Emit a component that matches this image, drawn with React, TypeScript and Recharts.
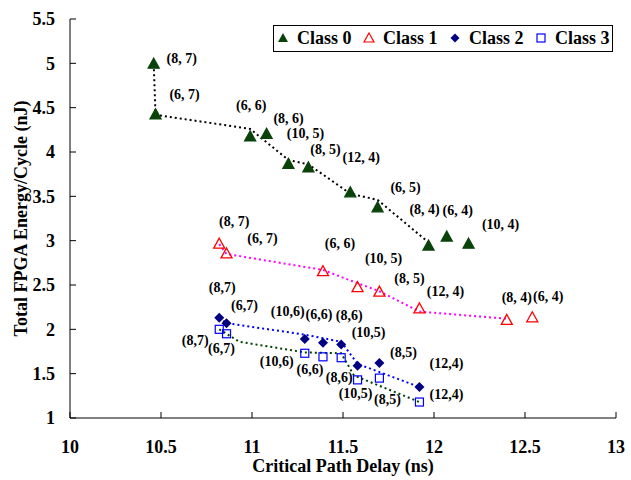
import React from "react"
import { ScatterChart, Scatter, XAxis, YAxis, Legend } from "recharts"

// class 0 (filled triangles)
const c0X = [10.46, 10.47, 10.99, 11.08, 11.2, 11.31, 11.54, 11.69, 11.97, 12.07, 12.19]
const c0Y = [4.99, 4.42, 4.17, 4.2, 3.86, 3.82, 3.54, 3.37, 2.94, 3.04, 2.96]
const c0Labels = ["(8, 7)", "(6, 7)", "(6, 6)", "(8, 6)", "(10, 5)", "(8, 5)", "(12, 4)", "(6, 5)", "(8, 4)", "(6, 4)", "(10, 4)"]

// class 1 (open triangles)
const c1X = [10.82, 10.86, 11.39, 11.58, 11.7, 11.92, 12.4, 12.54]
const c1Y = [2.96, 2.85, 2.65, 2.47, 2.42, 2.23, 2.1, 2.13]
const c1Labels = ["(8, 7)", "(6, 7)", "(6, 6)", "(10, 5)", "(8, 5)", "(12, 4)", "(8, 4)", "(6, 4)"]

// class 2 (diamonds)
const c2X = [10.82, 10.86, 11.29, 11.39, 11.49, 11.58, 11.7, 11.92]
const c2Y = [2.13, 2.07, 1.89, 1.85, 1.83, 1.59, 1.62, 1.35]
const c2Labels = ["(8,7)", "(6,7)", "(10,6)", "(6,6)", "(8,6)", "(10,5)", "(8,5)", "(12,4)"]

// class 3 (open squares)
const c3X = [10.82, 10.86, 11.29, 11.39, 11.49, 11.58, 11.7, 11.92]
const c3Y = [2.0, 1.95, 1.73, 1.69, 1.68, 1.43, 1.45, 1.18]
const c3Labels = ["(8,7)", "(6,7)", "(10,6)", "(6,6)", "(8,6)", "(10,5)", "(8,5)", "(12,4)"]

// dotted frontier lines
const f0X = [10.46, 10.47, 10.99, 11.2, 11.31, 11.54, 11.69, 11.97]
const f0Y = [4.99, 4.42, 4.26, 3.91, 3.86, 3.53, 3.46, 2.98]
const f1X = [10.82, 10.86, 11.39, 11.58, 11.7, 11.92, 12.4]
const f1Y = [2.96, 2.85, 2.67, 2.52, 2.43, 2.2, 2.12]
const f2X = [10.82, 10.86, 11.29, 11.49, 11.58, 11.92]
const f2Y = [2.13, 2.07, 1.94, 1.86, 1.61, 1.35]
const f3X = [10.82, 10.86, 10.93, 11.29, 11.49, 11.56, 11.92]
const f3Y = [2.0, 1.95, 1.86, 1.74, 1.73, 1.48, 1.18]

const xTicks = [10, 10.5, 11, 11.5, 12, 12.5, 13]
const yTicks = [1, 1.5, 2, 2.5, 3, 3.5, 4, 4.5, 5, 5.5]

// label offsets in px from the marker
const c0Off = [[28, -6], [29, -20], [1, -31], [22, -16], [17, -31], [17, -18], [11, -35], [28, -20], [-4, -36], [11, -27], [32, -20]]
const c1Off = [[15, -23], [36, -15], [17, -28], [26, -29], [30, -14], [26, -17], [10, -23], [16, -21]]
const c2Off = [[3, -30], [18, -18], [-17, -28], [-4, -28], [8, -29], [11, -33], [24, -11], [27, -23]]
const c3Off = [[-24, 11], [-5, 15], [-28, 8], [-13, 13], [-2, 20], [-2, 14], [8, 21], [27, -8]]

const FONT = "'Liberation Serif', 'Times New Roman', serif"

const pts = (xs: number[], ys: number[], labels?: string[]) =>
  xs.map((x, i) => ({ x, y: ys[i], label: labels ? labels[i] : "", i }))

const tag = (p: any, off: number[][]) => {
  const o = off[p.payload.i]
  return (
    <text x={p.cx + o[0]} y={p.cy + o[1]} textAnchor="middle" dominantBaseline="central"
      fontFamily={FONT} fontWeight="bold" fontSize={14} fill="#000">
      {p.payload.label}
    </text>
  )
}

const Tri = (props: any) => {
  const { cx, cy, fill, stroke } = props
  return <path d={`M${cx},${cy - 6}L${cx + 5.5},${cy + 4}L${cx - 5.5},${cy + 4}Z`} fill={fill} stroke={stroke} strokeWidth={1.3} />
}

const markers: any = {
  c0: (p: any) => (<g><Tri cx={p.cx} cy={p.cy} fill="#0a430a" stroke="#0a430a" />{tag(p, c0Off)}</g>),
  c1: (p: any) => (<g><Tri cx={p.cx} cy={p.cy} fill="none" stroke="#ff0000" />{tag(p, c1Off)}</g>),
  c2: (p: any) => (
    <g>
      <path d={`M${p.cx},${p.cy - 5}L${p.cx + 5},${p.cy}L${p.cx},${p.cy + 5}L${p.cx - 5},${p.cy}Z`} fill="#000080" />
      {tag(p, c2Off)}
    </g>
  ),
  c3: (p: any) => (
    <g>
      <rect x={p.cx - 4} y={p.cy - 4} width={8} height={8} fill="none" stroke="#0000ff" strokeWidth={1.2} />
      {tag(p, c3Off)}
    </g>
  ),
}

const noDot = () => <g />

const legendItems = [
  { name: "Class 0", icon: <path d="M6,1L11,10L1,10Z" fill="#0a430a" /> },
  { name: "Class 1", icon: <path d="M6,1L11,10L1,10Z" fill="none" stroke="#ff0000" strokeWidth={1.2} /> },
  { name: "Class 2", icon: <path d="M6,1.5L10.5,6L6,10.5L1.5,6Z" fill="#000080" /> },
  { name: "Class 3", icon: <rect x={2} y={2} width={8} height={8} fill="none" stroke="#0000ff" strokeWidth={1.2} /> },
]

const renderLegend = () => (
  <div style={{ position: "relative", width: 340, height: 27, border: "1px solid #000", boxSizing: "border-box", background: "#fff", fontFamily: FONT, fontWeight: "bold", fontSize: 18 }}>
    {legendItems.map((it, i) => (
      <div key={it.name}>
        <svg width={12} height={12} style={{ position: "absolute", left: 3 + 86 * i, top: 6 }}>{it.icon}</svg>
        <span style={{ position: "absolute", left: 23 + 86 * i, top: 2, lineHeight: "20px", whiteSpace: "nowrap" }}>{it.name}</span>
      </div>
    ))}
  </div>
)

const tickStyle = { fontFamily: FONT, fontWeight: "bold", fontSize: 18, fill: "#000" }

export default function App() {
  return (
    <div style={{ position: "absolute", left: 0, top: 0, background: "#fff" }}>
      <ScatterChart width={631} height={480} margin={{ top: 19, right: 15, bottom: 0, left: 0 }}>
        <XAxis type="number" dataKey="x" domain={[10, 13]} ticks={xTicks} height={62}
          axisLine={{ stroke: "#000" }} tickLine={{ stroke: "#000" }} tickSize={-6} tickMargin={28}
          tick={tickStyle} interval={0}
          label={{ value: "Critical Path Delay (ns)", position: "insideBottom", offset: 8, style: { fontFamily: FONT, fontWeight: "bold", fontSize: 18, fill: "#000" } }} />
        <YAxis type="number" dataKey="y" domain={[1, 5.5]} ticks={yTicks} width={70}
          axisLine={{ stroke: "#000" }} tickLine={{ stroke: "#000" }} tickSize={-6} tickMargin={21}
          tick={tickStyle} interval={0}
          label={{ value: "Total FPGA Energy/Cycle (nJ)", angle: -90, position: "insideLeft", offset: 21, style: { textAnchor: "middle", fontFamily: FONT, fontWeight: "bold", fontSize: 18, fill: "#000" } }} />
        <Legend layout="horizontal" verticalAlign="middle" align="center" content={renderLegend}
          wrapperStyle={{ left: 273, top: 25, width: 340, height: 27 }} />
        <Scatter data={pts(f0X, f0Y)} line={{ stroke: "#000", strokeWidth: 2, strokeDasharray: "2 3" }} shape={noDot} legendType="none" isAnimationActive={false} />
        <Scatter data={pts(f1X, f1Y)} line={{ stroke: "#ff00ff", strokeWidth: 2, strokeDasharray: "2 3" }} shape={noDot} legendType="none" isAnimationActive={false} />
        <Scatter data={pts(f2X, f2Y)} line={{ stroke: "#0000ff", strokeWidth: 2, strokeDasharray: "2 3" }} shape={noDot} legendType="none" isAnimationActive={false} />
        <Scatter data={pts(f3X, f3Y)} line={{ stroke: "#004000", strokeWidth: 2, strokeDasharray: "2 3" }} shape={noDot} legendType="none" isAnimationActive={false} />
        <Scatter name="Class 0" data={pts(c0X, c0Y, c0Labels)} shape={markers.c0} isAnimationActive={false} />
        <Scatter name="Class 1" data={pts(c1X, c1Y, c1Labels)} shape={markers.c1} isAnimationActive={false} />
        <Scatter name="Class 2" data={pts(c2X, c2Y, c2Labels)} shape={markers.c2} isAnimationActive={false} />
        <Scatter name="Class 3" data={pts(c3X, c3Y, c3Labels)} shape={markers.c3} isAnimationActive={false} />
      </ScatterChart>
    </div>
  )
}
